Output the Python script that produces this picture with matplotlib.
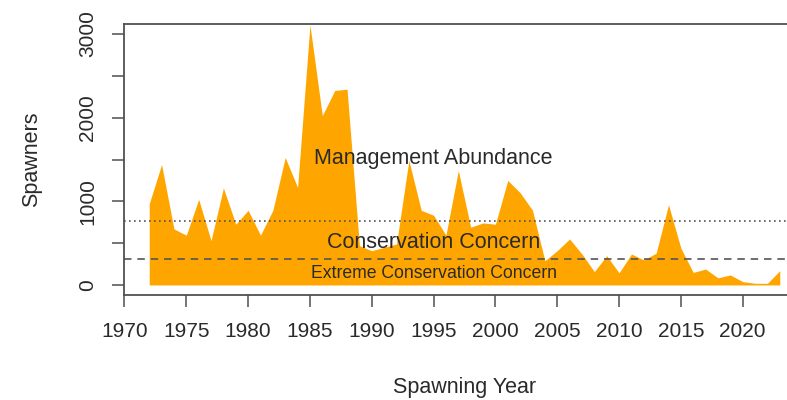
import matplotlib
matplotlib.use("Agg")
import matplotlib.pyplot as plt

plt.rcParams['font.family'] = ['Liberation Sans', 'DejaVu Sans']

years = list(range(1972, 2024))
spawners = [970, 1440, 670, 595, 1024, 530, 1160, 726, 893, 595,
            893, 1524, 1167, 3110, 2024, 2325, 2341, 470, 410, 450,
            490, 1490, 893, 833, 595, 1369, 690, 742, 726, 1250,
            1103, 893, 290, 410, 550, 370, 160, 350, 145, 370,
            300, 380, 960, 440, 150, 190, 85, 120, 40, 20,
            20, 170]

management_level = 760
conservation_level = 305

x_ticks = list(range(1970, 2021, 5))
y_ticks = list(range(0, 3001, 500))
y_tick_labels = [str(v) if v % 1000 == 0 else "" for v in y_ticks]

line_col = '#505050'
text_col = '#2a2a2a'

fig = plt.figure(figsize=(7.87, 4.0), dpi=100)
ax = fig.add_axes([124/787, 1-295/400, 681/787, 271/400])

ax.fill_between(years, 0, spawners, color='#FFA500', lw=0, zorder=1)
ax.axhline(management_level, color='#555555', lw=1.2, linestyle=(0, (1, 2.0)), zorder=2)
ax.axhline(conservation_level, color='#555555', lw=1.2, linestyle=(0, (4.5, 3.5)), zorder=2)

ax.text(1995, 1510, "Management Abundance", ha='center', va='center', fontsize=15.5, color=text_col, zorder=3)
ax.text(1995, 512, "Conservation Concern", ha='center', va='center', fontsize=15.5, color=text_col, zorder=3)
ax.text(1995, 140, "Extreme Conservation Concern", ha='center', va='center', fontsize=12.7, color=text_col, zorder=3)

ax.set_xlim(1969.96, 2025.04)
ax.set_ylim(-120, 3120)
ax.set_xticks(x_ticks)
ax.set_xticklabels([str(v) for v in x_ticks])
ax.set_yticks(y_ticks)
ax.set_yticklabels(y_tick_labels)

for s in ax.spines.values():
    s.set_color(line_col)
    s.set_linewidth(1.3)

ax.tick_params(axis='both', colors=line_col, length=8.5, width=1.1, labelsize=15, labelcolor=text_col)
ax.tick_params(axis='x', pad=11)
ax.tick_params(axis='y', pad=11, labelrotation=90)
for lab in ax.get_yticklabels():
    lab.set_va('center')

ax.set_ylabel("Spawners", fontsize=15.5, color=text_col, va='center')
ax.yaxis.set_label_coords((32-124)/681, 0.5)
ax.set_xlabel("Spawning Year", fontsize=15.5, color=text_col, va='center')
ax.xaxis.set_label_coords(0.5, (295-387)/271)

fig.savefig("out.png", dpi=100)
